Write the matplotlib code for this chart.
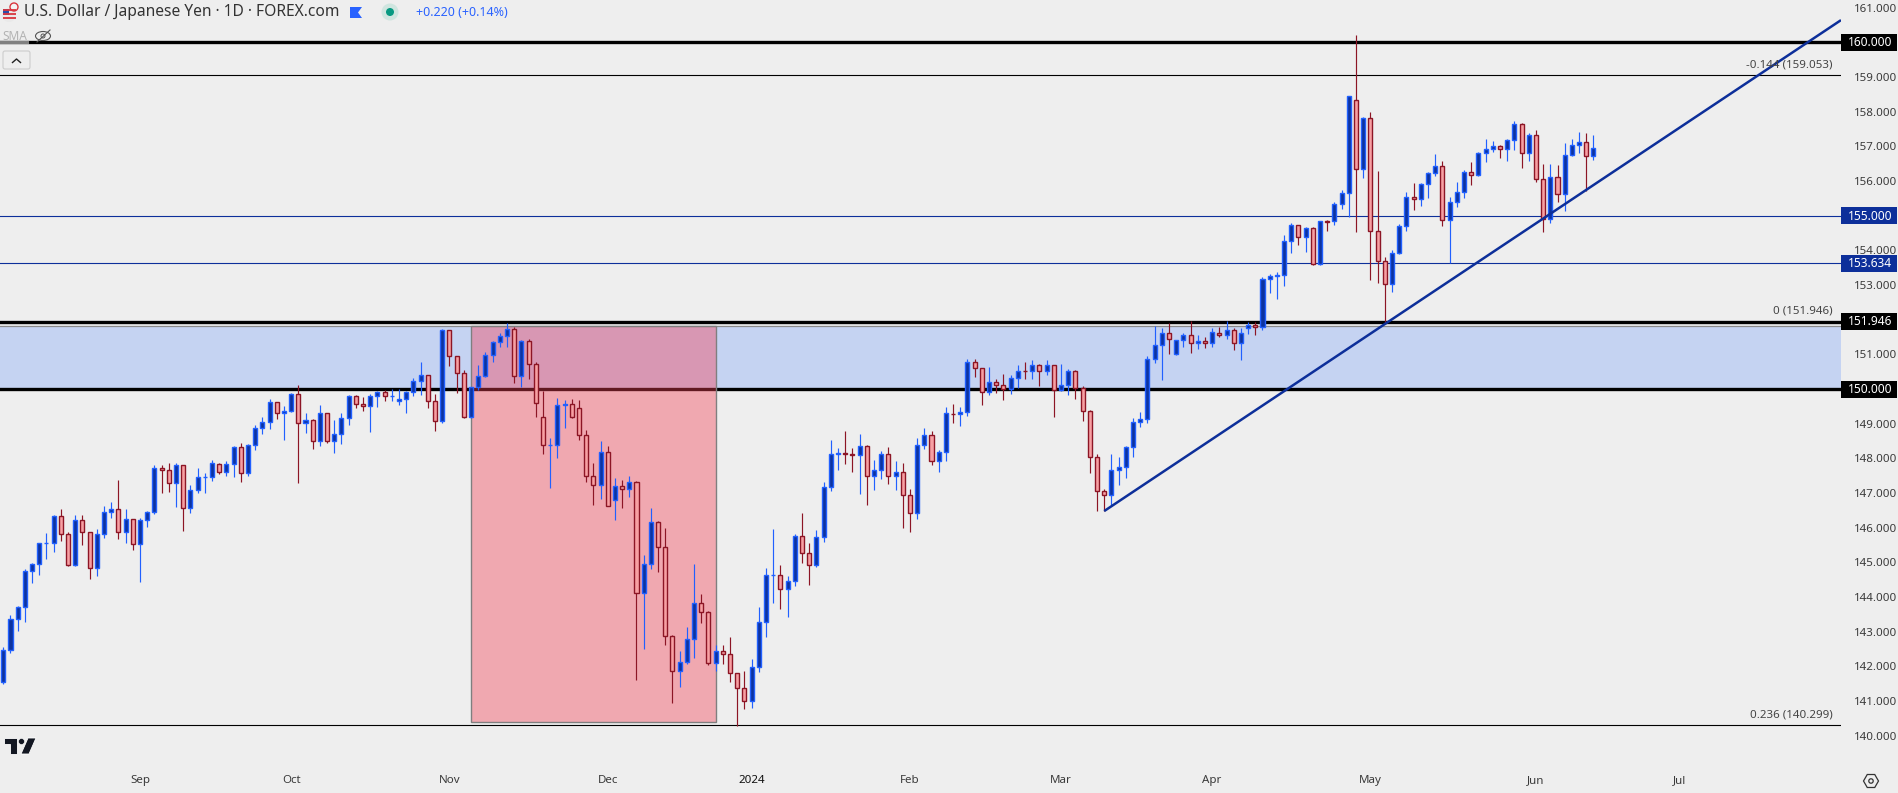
#!/usr/bin/env python3
# USD/JPY daily candles, TradingView look
import numpy as np
import matplotlib
matplotlib.use('Agg')
import matplotlib.pyplot as plt
from matplotlib.patches import Rectangle, Polygon, Circle, Ellipse, FancyBboxPatch
from matplotlib.transforms import blended_transform_factory

plt.rcParams['font.family'] = ['Noto Sans', 'DejaVu Sans']

# OHLC
opens = [141.54, 142.46, 143.36, 143.70, 144.74, 144.94, 145.55, 145.55, 146.33, 145.81,
         144.91, 146.21, 145.87, 144.83, 145.81, 146.44, 146.53, 145.87, 146.24, 145.52,
         146.21, 146.44, 147.71, 147.65, 147.28, 147.80, 146.56, 147.08, 147.45, 147.45,
         147.83, 147.60, 147.83, 148.32, 147.57, 148.38, 148.87, 149.04, 149.62, 149.30,
         149.36, 149.85, 149.01, 149.10, 148.49, 149.30, 148.49, 148.69, 149.15, 149.79,
         149.56, 149.50, 149.79, 149.90, 149.80, 149.64, 149.70, 149.90, 150.22, 150.39,
         149.64, 149.07, 151.69, 150.94, 150.45, 149.18, 150.05, 150.37, 150.97, 151.35,
         151.52, 151.72, 150.37, 151.38, 150.71, 149.18, 148.38, 148.38, 149.55, 149.56,
         149.44, 148.66, 147.48, 147.22, 148.17, 146.79, 147.19, 147.13, 147.31, 144.11,
         144.94, 146.15, 145.43, 142.87, 141.86, 142.14, 142.78, 143.82, 143.56, 142.09,
         142.43, 142.37, 141.80, 141.39, 140.99, 141.97, 143.27, 144.63, 144.63, 144.22,
         144.45, 145.75, 145.26, 144.91, 145.72, 147.16, 148.14, 148.15, 148.14, 148.09,
         148.35, 147.48, 147.65, 148.14, 147.48, 147.60, 146.93, 146.41, 148.38, 148.66,
         147.91, 148.17, 149.29, 149.27, 149.33, 150.77, 150.60, 149.90, 150.19, 150.13,
         149.99, 150.31, 150.52, 150.51, 150.68, 150.51, 150.68, 149.96, 150.11, 150.51,
         150.02, 149.38, 148.03, 147.05, 146.93, 147.65, 147.74, 148.32, 149.04, 149.13,
         150.86, 151.26, 151.61, 151.00, 151.40, 151.55, 151.32, 151.38, 151.32, 151.63,
         151.55, 151.69, 151.32, 151.75, 151.84, 151.78, 153.16, 153.27, 153.28, 154.26,
         154.72, 154.38, 154.63, 153.60, 154.84, 154.84, 155.33, 155.64, 158.33, 156.34,
         157.81, 154.55, 153.68, 153.02, 153.91, 154.69, 155.53, 155.47, 155.90, 156.22,
         156.42, 154.87, 155.38, 155.67, 156.25, 156.16, 156.80, 156.91, 157.00, 156.91,
         157.17, 157.63, 156.80, 157.32, 156.05, 154.89, 156.11, 155.62, 156.74, 157.03,
         157.12, 156.71]
highs = [142.55, 143.47, 143.73, 144.80, 144.97, 145.56, 145.84, 146.38, 146.53, 145.87,
         146.38, 146.38, 145.88, 145.95, 146.62, 146.73, 147.37, 146.53, 146.25, 146.27,
         146.47, 147.80, 147.80, 147.86, 147.86, 147.81, 147.22, 147.71, 147.57, 147.94,
         147.86, 147.91, 148.35, 148.43, 148.40, 148.95, 149.18, 149.70, 149.63, 149.50,
         149.88, 150.13, 149.30, 149.13, 149.53, 149.31, 149.10, 149.30, 149.82, 149.82,
         149.76, 149.85, 149.93, 149.96, 149.99, 149.99, 149.93, 150.31, 150.77, 150.40,
         149.85, 151.72, 151.70, 150.95, 150.54, 150.06, 150.68, 151.06, 151.38, 151.61,
         151.89, 151.78, 151.40, 151.43, 150.77, 149.93, 148.58, 149.73, 149.67, 149.70,
         149.67, 148.81, 147.88, 148.49, 148.35, 147.42, 147.37, 147.48, 147.34, 145.20,
         146.56, 146.18, 145.98, 142.90, 142.43, 143.13, 144.94, 144.08, 143.59, 142.63,
         142.61, 142.84, 141.81, 141.88, 142.20, 143.70, 144.83, 145.95, 144.91, 144.60,
         145.81, 146.41, 145.55, 145.92, 147.31, 148.52, 148.29, 148.78, 148.29, 148.69,
         148.38, 147.94, 148.20, 148.32, 147.91, 147.88, 147.11, 148.58, 148.89, 148.78,
         148.23, 149.47, 149.56, 149.47, 150.88, 150.86, 150.61, 150.63, 150.28, 150.42,
         150.39, 150.68, 150.77, 150.83, 150.71, 150.83, 150.69, 150.71, 150.57, 150.54,
         150.08, 149.39, 148.12, 147.13, 148.14, 148.03, 148.35, 149.15, 149.33, 150.94,
         151.81, 151.75, 151.89, 151.40, 151.61, 151.95, 151.55, 151.49, 151.75, 151.78,
         151.95, 151.75, 151.75, 151.92, 151.92, 153.22, 153.31, 153.37, 154.43, 154.78,
         154.73, 154.66, 154.66, 154.85, 154.87, 155.38, 155.73, 158.45, 160.21, 157.84,
         157.98, 156.28, 153.80, 154.00, 154.75, 155.67, 155.93, 155.93, 156.25, 156.77,
         156.57, 155.53, 155.96, 156.31, 156.54, 156.83, 157.20, 157.14, 157.03, 157.20,
         157.72, 157.66, 157.38, 157.46, 156.48, 156.48, 156.45, 157.09, 157.20, 157.40,
         157.38, 157.32]
lows = [141.49, 142.40, 143.01, 143.28, 144.41, 144.64, 145.11, 145.31, 145.63, 144.90,
        144.90, 145.51, 144.53, 144.62, 145.71, 146.29, 145.68, 145.57, 145.37, 144.44,
        146.03, 146.40, 147.01, 147.04, 146.59, 145.91, 146.43, 147.01, 147.01, 147.36,
        147.56, 147.50, 147.47, 147.33, 147.50, 148.25, 148.70, 148.86, 149.14, 148.54,
        149.35, 147.30, 148.74, 148.28, 148.37, 148.45, 148.16, 148.42, 148.97, 149.46,
        149.37, 148.77, 149.49, 149.66, 149.66, 149.55, 149.32, 149.81, 149.84, 149.46,
        148.80, 149.03, 150.67, 149.88, 149.17, 149.17, 149.96, 150.36, 150.79, 151.22,
        151.22, 150.16, 150.07, 150.30, 149.20, 148.12, 147.15, 148.02, 148.89, 149.17,
        148.54, 147.33, 146.66, 146.84, 146.63, 146.23, 146.58, 146.89, 141.62, 142.51,
        144.82, 144.73, 142.63, 140.95, 141.41, 142.08, 142.25, 143.26, 142.05, 141.88,
        142.08, 141.56, 140.27, 140.78, 140.81, 141.85, 142.86, 143.82, 143.66, 143.43,
        144.33, 144.97, 144.36, 144.88, 145.60, 147.07, 147.67, 147.85, 147.62, 146.98,
        146.66, 147.10, 147.41, 147.27, 147.10, 146.00, 145.88, 146.26, 148.28, 147.82,
        147.62, 147.93, 149.03, 148.94, 149.23, 150.36, 149.55, 149.84, 149.89, 149.69,
        149.87, 150.02, 150.30, 150.29, 150.10, 150.39, 149.20, 149.95, 149.84, 149.72,
        149.09, 147.59, 146.49, 146.49, 146.63, 147.24, 147.44, 148.05, 148.91, 149.03,
        150.74, 150.27, 151.02, 150.99, 151.22, 151.05, 151.16, 151.19, 151.22, 151.49,
        151.45, 151.13, 150.84, 151.60, 151.57, 151.69, 152.77, 152.61, 152.97, 153.91,
        154.15, 153.94, 153.59, 153.59, 154.57, 154.74, 155.20, 154.97, 154.54, 156.10,
        153.14, 153.07, 151.87, 152.81, 153.88, 154.57, 155.17, 155.29, 155.52, 156.15,
        154.71, 153.63, 155.26, 155.52, 155.87, 156.13, 156.56, 156.85, 156.66, 156.59,
        156.90, 156.38, 156.59, 155.96, 154.54, 154.80, 155.38, 155.14, 156.73, 156.82,
        155.72, 156.60]
closes = [142.46, 143.36, 143.70, 144.74, 144.94, 145.55, 145.56, 146.33, 145.81, 144.91,
          146.21, 145.87, 144.83, 145.81, 146.44, 146.53, 145.87, 146.24, 145.52, 146.21,
          146.44, 147.71, 147.65, 147.28, 147.80, 146.56, 147.08, 147.45, 147.46, 147.86,
          147.60, 147.83, 148.32, 147.57, 148.38, 148.87, 149.04, 149.62, 149.30, 149.36,
          149.85, 149.01, 149.10, 148.49, 149.30, 148.49, 148.69, 149.15, 149.79, 149.56,
          149.50, 149.79, 149.90, 149.79, 149.81, 149.70, 149.90, 150.22, 150.39, 149.64,
          149.07, 151.69, 150.94, 150.45, 149.18, 150.05, 150.37, 150.97, 151.35, 151.52,
          151.72, 150.37, 151.38, 150.71, 149.59, 148.38, 148.39, 149.53, 149.56, 149.18,
          148.66, 147.48, 147.22, 148.17, 146.64, 147.19, 147.13, 147.31, 144.11, 144.94,
          146.15, 145.43, 142.87, 141.86, 142.14, 142.78, 143.82, 143.56, 142.09, 142.43,
          142.37, 141.80, 141.39, 140.99, 141.97, 143.27, 144.63, 144.64, 144.22, 144.45,
          145.75, 145.26, 144.91, 145.72, 147.16, 148.14, 148.15, 148.14, 148.09, 148.35,
          147.48, 147.65, 148.14, 147.48, 147.60, 146.93, 146.41, 148.38, 148.66, 147.91,
          148.17, 149.30, 149.28, 149.33, 150.77, 150.60, 149.90, 150.19, 150.13, 149.99,
          150.31, 150.51, 150.51, 150.68, 150.51, 150.68, 149.96, 150.11, 150.51, 150.02,
          149.38, 148.03, 147.05, 146.93, 147.65, 147.74, 148.32, 149.04, 149.13, 150.86,
          151.26, 151.61, 151.43, 151.40, 151.55, 151.32, 151.38, 151.32, 151.63, 151.55,
          151.69, 151.32, 151.61, 151.84, 151.78, 153.16, 153.25, 153.28, 154.26, 154.72,
          154.38, 154.63, 153.60, 154.84, 154.83, 155.33, 155.64, 158.44, 156.34, 157.81,
          154.55, 153.68, 153.02, 153.91, 154.69, 155.53, 155.47, 155.90, 156.22, 156.42,
          154.87, 155.38, 155.67, 156.25, 156.16, 156.80, 156.91, 157.00, 156.91, 157.17,
          157.63, 156.80, 157.32, 156.05, 154.89, 156.11, 155.62, 156.74, 157.03, 157.12,
          156.71, 156.94]

month_labels = ['Sep', 'Oct', 'Nov', 'Dec', '2024', 'Feb', 'Mar', 'Apr', 'May', 'Jun', 'Jul']
month_index = [19, 40, 62, 84, 104, 126, 147, 168, 190, 213, 233]

# 150, 152, 155 and 160 sit behind the price tags in the original
price_ticks = [p for p in range(140, 162) if p not in (150, 152, 155, 160)]
thick_levels = [160.0, 151.946, 150.0]
thin_black_levels = [159.053, 140.299]
blue_levels = [155.0, 153.634]
zone_low, zone_high = 150.0, 151.81
box_index = [65, 99]
box_price = [140.39, 151.81]
trend_index = [153, 255.4]
trend_price = [146.48, 160.64]
fib_labels = [('-0.144 (159.053)', 159.053), ('0 (151.946)', 151.946), ('0.236 (140.299)', 140.299)]

BG = '#eeeeee'
UP_FILL, UP_EDGE = '#0d339f', '#2160ff'
DOWN_FILL, DOWN_EDGE = '#f7a0a3', '#8c1525'
NAVY = '#0d2f9a'
TXT = '#3a3a3a'
W, H = 1898, 793
FS = 8.3

fig = plt.figure(figsize=(W / 100, H / 100), dpi=100, facecolor=BG)
ax = fig.add_axes([0, 1 - 760 / H, 1841 / W, 760 / H], facecolor=BG)
ax.set_xlim(-0.459, 255.4)
ax.set_ylim(139.30, 161.22)
for s in ax.spines.values():
    s.set_visible(False)

# zone + horizontal levels (zone runs past the axes so only its top edge shows)
ax.add_patch(Rectangle((-5, zone_low), 270, zone_high - zone_low, facecolor='#c5d3f2',
                       edgecolor='#8a8a8a', linewidth=0.9, zorder=1))
ax.hlines(thick_levels, -1, 256, color='black', linewidth=2.4, zorder=2)
ax.hlines(thin_black_levels, -1, 256, color='black', linewidth=0.8, zorder=2)
ax.hlines(blue_levels, -1, 256, color=NAVY, linewidth=0.8, zorder=2)

# red box sits over the lines but under the candles
ax.add_patch(Rectangle((box_index[0], box_price[0]), box_index[1] - box_index[0],
                       box_price[1] - box_price[0], facecolor='#f53f55', alpha=0.4,
                       edgecolor='none', zorder=3))
ax.add_patch(Rectangle((box_index[0], box_price[0]), box_index[1] - box_index[0],
                       box_price[1] - box_price[0], facecolor='none',
                       edgecolor='#7f7f7f', linewidth=1.0, zorder=3))

# candles
o = np.array(opens)
h = np.array(highs)
l = np.array(lows)
c = np.array(closes)
idx = np.arange(len(o))
up = c >= o
ax.vlines(idx[up], l[up], h[up], color=UP_EDGE, linewidth=0.85, zorder=4)
ax.vlines(idx[~up], l[~up], h[~up], color=DOWN_EDGE, linewidth=0.85, zorder=4)
ax.bar(idx[up], (c - o)[up], bottom=o[up], width=0.56, color=UP_FILL,
       edgecolor=UP_EDGE, linewidth=1.0, zorder=5)
ax.bar(idx[~up], (o - c)[~up], bottom=c[~up], width=0.56, color=DOWN_FILL,
       edgecolor=DOWN_EDGE, linewidth=1.0, zorder=5)

# trend line
ax.plot(trend_index, trend_price, color=NAVY, linewidth=1.8, zorder=6, solid_capstyle='butt')

# axes
ax.yaxis.tick_right()
ax.set_yticks(price_ticks)
ax.set_yticklabels([f'{p:.3f}' for p in price_ticks], fontsize=FS, color=TXT)
ax.set_xticks(month_index)
ax.set_xticklabels(month_labels, fontsize=FS, color=TXT)
ax.tick_params(axis='y', length=0, pad=9.2)
ax.tick_params(axis='x', length=0, pad=10.8)
for lab in ax.get_xticklabels():
    if lab.get_text() == '2024':
        lab.set_color('#111111')

# price tags on the axis
tr = blended_transform_factory(ax.transAxes, ax.transData)
tag_w = 56 / 1841
tag_h = 17 / 34.67
for lev, col in [(v, 'black') for v in thick_levels] + [(v, NAVY) for v in blue_levels]:
    ax.add_patch(Rectangle((1.0, lev - tag_h / 2), tag_w, tag_h, transform=tr, facecolor=col,
                           edgecolor='none', clip_on=False, zorder=8))
    ax.text(1 + 29 / 1841, lev - 0.01, f'{lev:.3f}', transform=tr, color='white', fontsize=8.6,
            fontweight='bold', ha='center', va='center', clip_on=False, zorder=9)

# fib labels
for txt, lev in fib_labels:
    ax.annotate(txt, xy=(1.0, lev), xycoords=tr, xytext=(-6, 3.6), textcoords='offset points',
                ha='right', va='bottom', fontsize=FS, color='#444444', zorder=7)

# header, logo and small icons, on a full pixel overlay
ov = fig.add_axes([0, 0, 1, 1], facecolor='none')
ov.set_xlim(0, W)
ov.set_ylim(H, 0)
ov.axis('off')

ov.text(24, 12.5, 'U.S. Dollar / Japanese Yen · 1D · FOREX.com', fontsize=11.2, color='#333333',
        ha='left', va='center')
ov.text(416, 12.5, '+0.220 (+0.14%)', fontsize=9.0, color='#2962ff', ha='left', va='center')

# flag badge
ov.add_patch(Circle((9, 15), 7, facecolor='#e9e9e9', edgecolor='none'))
for yy in (10, 14, 18):
    ov.plot([3, 16], [yy, yy], color='#d9363e', lw=1.3, solid_capstyle='butt')
ov.add_patch(Rectangle((3, 9), 6, 6, facecolor='#2b4ea8', edgecolor='none'))
ov.add_patch(Circle((14, 7), 4, facecolor='#f3f3f3', edgecolor='#d9363e', linewidth=1.0))

# bookmark flag
ov.add_patch(Polygon([(350, 7), (362, 7), (358, 12.5), (362, 18), (350, 18)], closed=True,
                     facecolor='#2962ff', edgecolor='none'))
# market status dot
ov.add_patch(Circle((390, 12), 8.5, facecolor='#cfe5df', edgecolor='none'))
ov.add_patch(Circle((390, 12), 4, facecolor='#089981', edgecolor='none'))

# SMA legend
ov.add_patch(Rectangle((0, 40.8), 29, 3, facecolor='#808080', edgecolor='none'))
ov.text(2, 36, 'SMA', fontsize=8.6, color='#b3b3b3', ha='left', va='center')
ov.add_patch(Ellipse((43, 36), 15, 9, fill=False, edgecolor='#555555', linewidth=0.8))
ov.plot([37, 50], [42, 30], color='#555555', lw=0.8)
ov.add_patch(Circle((43, 36), 2, fill=False, edgecolor='#555555', linewidth=0.7))

# collapse button
ov.add_patch(FancyBboxPatch((3, 51), 27, 18, boxstyle='round,pad=0,rounding_size=2',
                            facecolor='#eeeeee', edgecolor='#cccccc', linewidth=0.8))
ov.plot([12.5, 16.5, 20.5], [62.5, 59, 62.5], color='#222222', lw=1.0)

# TradingView logo
logo_col = '#131722'
ov.add_patch(Polygon([(4, 738), (17, 738), (17, 754), (10, 754), (10, 744), (4, 744)], closed=True,
                     facecolor=logo_col, edgecolor='white', linewidth=0.6))
ov.add_patch(Circle((21.5, 741.5), 3, facecolor=logo_col, edgecolor='white', linewidth=0.4))
ov.add_patch(Polygon([(28, 738), (36, 738), (29, 754), (21, 754)], closed=True,
                     facecolor=logo_col, edgecolor='white', linewidth=0.6))

# settings gear
ang = np.deg2rad(np.arange(0, 360, 60))
ov.add_patch(Polygon(np.c_[1871 + 7.5 * np.cos(ang), 781 + 7.5 * np.sin(ang)], closed=True,
                     fill=False, edgecolor='#333333', linewidth=0.9))
ov.add_patch(Circle((1871, 781), 2.2, fill=False, edgecolor='#333333', linewidth=0.9))

fig.savefig('out.png', dpi=100, facecolor=BG)
